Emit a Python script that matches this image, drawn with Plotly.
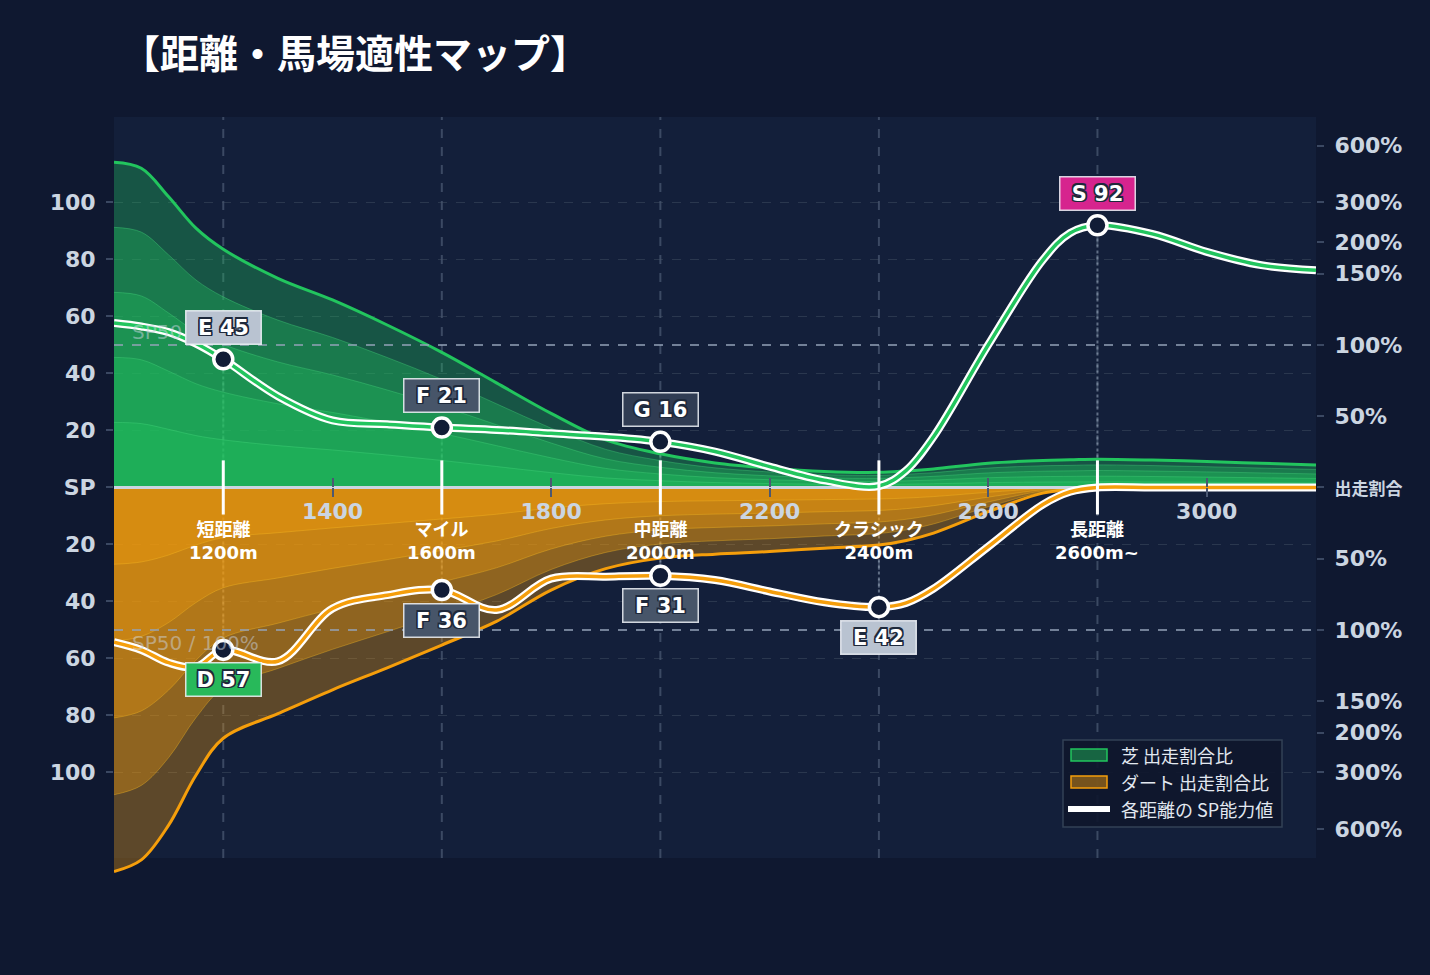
import plotly.graph_objects as go

# ---------------- data ----------------
DISTANCE = [1000, 1050, 1100, 1150, 1200, 1300, 1400, 1500, 1600, 1700, 1800, 1900, 2000, 2100,
            2200, 2300, 2400, 2450, 2500, 2600, 2700, 2750, 2800, 2900, 3000, 3100, 3200]
TURF_SHARE = [114.1, 112, 102, 91, 83.6, 73.4, 65.8, 57, 47.4, 36.7, 26, 16.7, 11.8, 8.6,
              6.8, 5.6, 5.3, 5.8, 6.5, 8.5, 9.5, 9.7, 9.9, 9.6, 9.1, 8.5, 7.9]
DIRT_SHARE = [134.8, 130.7, 118.5, 101, 88, 79.4, 71, 63.3, 55.3, 47, 36, 28.5, 24.8, 23.4,
              22.5, 21.3, 20.2, 18.6, 16, 8.5, 2, 0.8, 0.3, 0.3, 0.3, 0.3, 0.3]
TURF_SP = [57.7, 56.5, 54.5, 50.5, 45, 32, 23.5, 22.2, 21, 20.2, 19, 17.8, 16, 12.6,
           7.3, 2.5, 0.5, 6, 17.8, 50, 79.8, 89.3, 92, 89, 82.7, 78, 76.2]
DIRT_SP = [54.3, 57, 61.5, 63, 57, 61, 42.5, 37.8, 36, 43, 32, 31.3, 31, 32.5,
           36.5, 40.3, 42, 40.5, 35.5, 20.8, 6, 1.5, 0, 0, 0, 0, 0]

CATEGORY_X = [1200, 1600, 2000, 2400, 2800]
CATEGORY_NAME = ["短距離", "マイル", "中距離", "クラシック", "長距離"]
CATEGORY_DIST = ["1200m", "1600m", "2000m", "2400m", "2600m~"]

TURF_GRADE_X = [1200, 1600, 2000, 2800]
TURF_GRADE = ["E", "F", "G", "S"]
TURF_GRADE_SP = [45, 21, 16, 92]
DIRT_GRADE_X = [1200, 1600, 2000, 2400]
DIRT_GRADE = ["D", "F", "F", "E"]
DIRT_GRADE_SP = [57, 36, 31, 42]

SP50 = 50
LEFT_TICK_VALS = [100, 80, 60, 40, 20, 0, -20, -40, -60, -80, -100]
LEFT_TICK_TEXT = ["100", "80", "60", "40", "20", "SP", "20", "40", "60", "80", "100"]
RIGHT_TICK_VALS = [120, 100, 86, 75, 50, 25, 0, -25, -50, -75, -86, -100, -120]
RIGHT_TICK_TEXT = ["600%", "300%", "200%", "150%", "100%", "50%",
                   '<span style="font-size:17px">出走割合</span>',
                   "50%", "100%", "150%", "200%", "300%", "600%"]
X_TICK_VALS = [1400, 1800, 2200, 2600, 3000]

LEGEND_LABELS = ["芝 出走割合比", "ダート 出走割合比", "各距離の SP能力値"]

# ---------------- style ----------------
PAPER = "#0f1830"
PLOT_BG = "#131f3a"
TURF = "#22c55e"
DIRT = "#f59e0b"
TICK_COL = "#cbd5e1"
LAYER_FRACTIONS = [1.0, 0.8, 0.6, 0.4, 0.2]
GRADE_BG = {"S": "#d6248e", "D": "#28b95a", "E": "#b9c3d1", "F": "#475569", "G": "#303c53"}
NUM_FONT = "DejaVu Sans, Noto Sans CJK JP"
JP_FONT = "Noto Sans CJK JP"
Y_RANGE = [-136, 130]
PLOT_EDGE = 130
SMOOTH = 1.0

fig = go.Figure()

# stacked translucent share layers (turf up, dirt down)
for i, f in enumerate(LAYER_FRACTIONS):
    outer = i == 0
    fig.add_trace(go.Scatter(
        x=DISTANCE, y=[v * f for v in TURF_SHARE], mode="lines",
        line=dict(shape="spline", smoothing=SMOOTH, color=TURF if outer else "rgba(74,222,128,0.35)",
                  width=3 if outer else 1),
        fill="tozeroy", fillcolor="rgba(34,197,94,0.33)", hoverinfo="skip"))
for i, f in enumerate(LAYER_FRACTIONS):
    outer = i == 0
    fig.add_trace(go.Scatter(
        x=DISTANCE, y=[-v * f for v in DIRT_SHARE], mode="lines",
        line=dict(shape="spline", smoothing=SMOOTH, color=DIRT if outer else "rgba(251,191,36,0.35)",
                  width=3 if outer else 1),
        fill="tozeroy", fillcolor="rgba(245,158,11,0.33)", hoverinfo="skip"))

# SP50 reference lines
for s in (1, -1):
    fig.add_trace(go.Scatter(
        x=[DISTANCE[0], DISTANCE[-1]], y=[s * SP50, s * SP50], mode="lines",
        line=dict(color="rgba(148,163,184,0.75)", width=2, dash="dash"), hoverinfo="skip"))

# top layer (x2/y2 overlay): baseline, SP lines, markers
fig.add_trace(go.Scatter(
    x=[DISTANCE[0], DISTANCE[-1]], y=[0, 0], mode="lines", xaxis="x2", yaxis="y2",
    line=dict(color="#cbd5e1", width=3), hoverinfo="skip"))

for ys, core in ((TURF_SP, TURF), ([-v for v in DIRT_SP], DIRT)):
    fig.add_trace(go.Scatter(
        x=DISTANCE, y=ys, mode="lines", xaxis="x2", yaxis="y2",
        line=dict(shape="spline", smoothing=SMOOTH, color="white", width=8), hoverinfo="skip"))
    fig.add_trace(go.Scatter(
        x=DISTANCE, y=ys, mode="lines", xaxis="x2", yaxis="y2",
        line=dict(shape="spline", smoothing=SMOOTH, color=core, width=3.5), hoverinfo="skip"))

marker_style = dict(size=19, color="#111c36", line=dict(color="white", width=3.5))
fig.add_trace(go.Scatter(
    x=TURF_GRADE_X, y=TURF_GRADE_SP, mode="markers", xaxis="x2", yaxis="y2",
    marker=marker_style, hoverinfo="skip"))
fig.add_trace(go.Scatter(
    x=DIRT_GRADE_X, y=[-v for v in DIRT_GRADE_SP], mode="markers", xaxis="x2", yaxis="y2",
    marker=marker_style, hoverinfo="skip"))

# ---------------- shapes ----------------
shapes = [dict(type="rect", xref="paper", yref="y", x0=0, x1=1, y0=-PLOT_EDGE, y1=PLOT_EDGE,
               fillcolor=PLOT_BG, line=dict(width=0), layer="below")]
for cx in CATEGORY_X:
    shapes.append(dict(type="line", xref="x", yref="y", x0=cx, x1=cx, y0=-PLOT_EDGE, y1=PLOT_EDGE,
                       line=dict(color="rgba(100,116,139,0.5)", width=2, dash="dash"), layer="below"))
for gx, gv in zip(TURF_GRADE_X, TURF_GRADE_SP):
    shapes.append(dict(type="line", xref="x", yref="y", x0=gx, x1=gx, y0=0, y1=gv,
                       line=dict(color="rgba(148,163,184,0.6)", width=2, dash="dot"), layer="below"))
for gx, gv in zip(DIRT_GRADE_X, DIRT_GRADE_SP):
    shapes.append(dict(type="line", xref="x", yref="y", x0=gx, x1=gx, y0=0, y1=-gv,
                       line=dict(color="rgba(148,163,184,0.6)", width=2, dash="dot"), layer="below"))
for cx in CATEGORY_X:
    shapes.append(dict(type="line", xref="x", yref="y", x0=cx, x1=cx, y0=-9.5, y1=9.5,
                       line=dict(color="white", width=3), layer="above"))

# hand-drawn legend (paper coordinates)
PLOT_W, PLOT_H, ML, MB = 1202, 758, 114, 100
def px_x(p):
    return (p - ML) / PLOT_W
def px_y(p):
    return (975 - MB - p) / PLOT_H
shapes.append(dict(type="rect", xref="paper", yref="paper",
                   x0=px_x(1063), x1=px_x(1282), y0=px_y(827), y1=px_y(740),
                   fillcolor="rgba(15,23,44,0.92)", line=dict(color="#334155", width=1.5), layer="above"))
legend_rows = [755, 782, 809]
for row, (fillc, linec) in zip(legend_rows[:2], [("rgba(34,197,94,0.45)", TURF),
                                                ("rgba(245,158,11,0.45)", DIRT)]):
    shapes.append(dict(type="rect", xref="paper", yref="paper",
                       x0=px_x(1071), x1=px_x(1107), y0=px_y(row + 6), y1=px_y(row - 6),
                       fillcolor=fillc, line=dict(color=linec, width=1.5), layer="above"))
shapes.append(dict(type="line", xref="paper", yref="paper",
                   x0=px_x(1068), x1=px_x(1110), y0=px_y(legend_rows[2]), y1=px_y(legend_rows[2]),
                   line=dict(color="white", width=6), layer="above"))

# ---------------- annotations ----------------
ann = []
ann.append(dict(text="【距離・馬場適性マップ】", xref="paper", yref="paper", x=0.004, y=1.0873,
                xanchor="left", yanchor="middle", showarrow=False,
                font=dict(family=JP_FONT, size=39, color="white", weight="bold")))
for s, anchor in ((1, "bottom"), (-1, "top")):
    ann.append(dict(text="SP50 / 100%", xref="x", yref="y", x=1031, y=s * SP50,
                    xanchor="left", yanchor=anchor, showarrow=False, borderpad=0,
                    font=dict(family="DejaVu Sans", size=20, color="rgba(203,213,225,0.5)")))
for cx, nm, dist in zip(CATEGORY_X, CATEGORY_NAME, CATEGORY_DIST):
    ann.append(dict(text=f"<b>{nm}</b><br><b>{dist}</b>", xref="x", yref="y", x=cx, y=-10.8,
                    xanchor="center", yanchor="top", showarrow=False, borderpad=0,
                    font=dict(family=NUM_FONT, size=18, color="white")))
shadow = ("-1.5px -1.5px 0 #1e293b, 1.5px -1.5px 0 #1e293b, -1.5px 1.5px 0 #1e293b, "
          "1.5px 1.5px 0 #1e293b, 0 1.5px 0 #1e293b, 0 -1.5px 0 #1e293b, "
          "1.5px 0 0 #1e293b, -1.5px 0 0 #1e293b")
def grade_label(x, y, g, v, shift):
    return dict(text=f"{g} {v}", xref="x", yref="y", x=x, y=y, yshift=shift,
                xanchor="center", yanchor="middle", showarrow=False,
                bgcolor=GRADE_BG[g], bordercolor="rgba(241,245,249,0.85)", borderwidth=1.5,
                borderpad=3, width=68, height=26,
                font=dict(family="DejaVu Sans", size=21, color="white", weight="bold", shadow=shadow))
for gx, g, v in zip(TURF_GRADE_X, TURF_GRADE, TURF_GRADE_SP):
    ann.append(grade_label(gx, v, g, v, 32))
for gx, g, v in zip(DIRT_GRADE_X, DIRT_GRADE, DIRT_GRADE_SP):
    ann.append(grade_label(gx, -v, g, v, -30))
for row, label in zip(legend_rows, LEGEND_LABELS):
    ann.append(dict(text=label, xref="paper", yref="paper", x=px_x(1120), y=px_y(row),
                    xanchor="left", yanchor="middle", showarrow=False, borderpad=0,
                    font=dict(family=JP_FONT, size=18, color="#e2e8f0")))

xpos = (0 - Y_RANGE[0]) / (Y_RANGE[1] - Y_RANGE[0])
tickfont = dict(family=NUM_FONT, size=22, color=TICK_COL, weight="bold")

fig.update_layout(
    width=1430, height=975,
    margin=dict(l=ML, r=114, t=117, b=MB),
    paper_bgcolor=PAPER, plot_bgcolor=PAPER,
    hovermode=False, showlegend=False,
    shapes=shapes, annotations=ann,
    xaxis=dict(range=[DISTANCE[0], DISTANCE[-1]], anchor="free", position=xpos,
               showgrid=False, zeroline=False, showline=False,
               tickvals=X_TICK_VALS, ticks="outside", ticklen=9, tickwidth=2,
               tickcolor="#4b5872", tickfont=tickfont, ticklabelstandoff=-5),
    xaxis2=dict(range=[DISTANCE[0], DISTANCE[-1]], overlaying="x", anchor="free", position=xpos,
                showgrid=False, zeroline=False, showline=False,
                tickvals=X_TICK_VALS, ticks="inside", ticklen=9, tickwidth=2,
                tickcolor="#4b5872", showticklabels=False),
    yaxis=dict(range=Y_RANGE, tickvals=LEFT_TICK_VALS, ticktext=LEFT_TICK_TEXT,
               showgrid=True, gridcolor="rgba(71,85,105,0.45)", griddash="dash", gridwidth=1,
               zeroline=False, showline=False, ticks="outside", ticklen=7, tickwidth=2,
               tickcolor="#3b4862", tickfont=tickfont, ticklabelstandoff=6),
    yaxis2=dict(range=Y_RANGE, overlaying="y", side="right", anchor="x2",
                tickvals=RIGHT_TICK_VALS, ticktext=RIGHT_TICK_TEXT,
                showgrid=False, zeroline=False, showline=False,
                ticks="outside", ticklen=7, tickwidth=2, tickcolor="#3b4862",
                tickfont=tickfont, ticklabelstandoff=6),
)

fig.write_html("out.html", config={"displayModeBar": False},
               post_script="document.body.style.margin='0';document.body.style.background='#0f1830';")
